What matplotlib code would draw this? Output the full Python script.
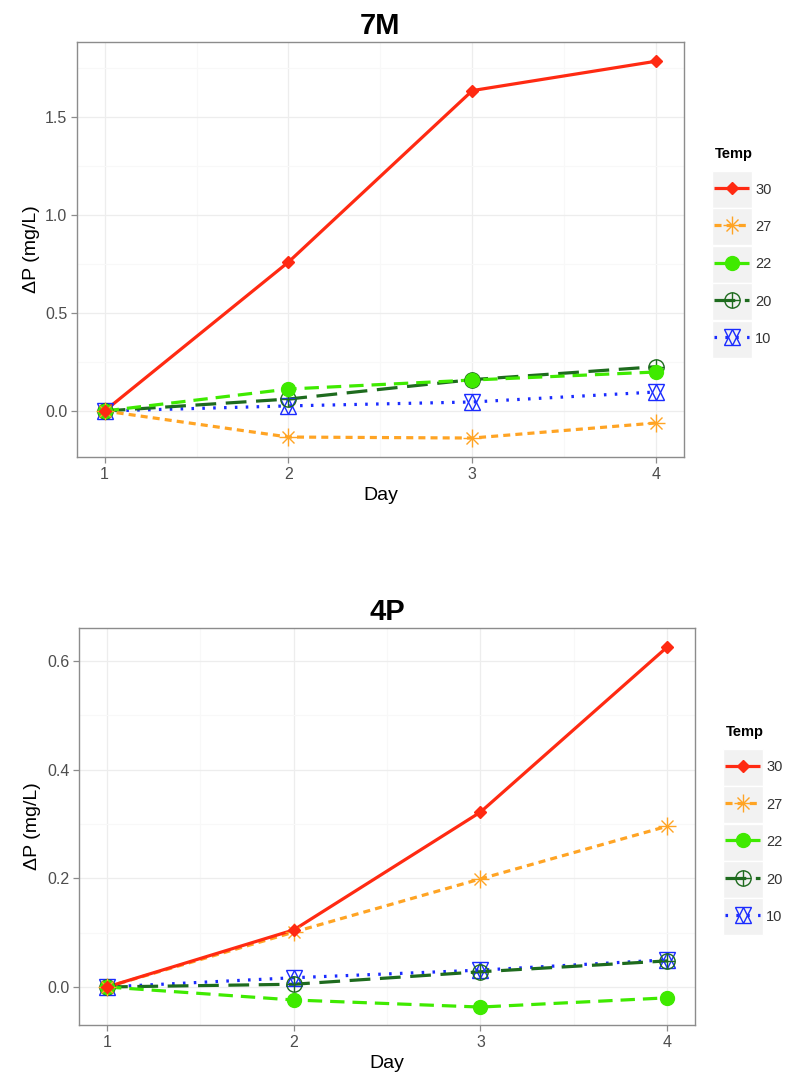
import matplotlib
matplotlib.use("Agg")
import matplotlib.pyplot as plt
from matplotlib.patches import Rectangle
from matplotlib.legend_handler import HandlerTuple
from matplotlib.ticker import MultipleLocator, FormatStrFormatter

plt.rcParams['font.family'] = ['Liberation Sans', 'DejaVu Sans']

days = [1, 2, 3, 4]
temps = ["30", "27", "22", "20", "10"]

# 7M panel values
m7_30 = [0.0, 0.76, 1.635, 1.785]
m7_27 = [0.0, -0.133, -0.138, -0.061]
m7_22 = [0.0, 0.112, 0.158, 0.199]
m7_20 = [0.0, 0.061, 0.160, 0.226]
m7_10 = [0.0, 0.026, 0.046, 0.097]

# 4P panel values
p4_30 = [0.0, 0.105, 0.322, 0.626]
p4_27 = [0.0, 0.101, 0.199, 0.296]
p4_22 = [0.0, -0.024, -0.037, -0.020]
p4_20 = [0.0, 0.005, 0.028, 0.048]
p4_10 = [0.0, 0.017, 0.031, 0.050]

colors = {"30": "#FF2A12", "27": "#FFA424", "22": "#3FEA00", "20": "#1E6B1E", "10": "#1A2BFF"}
dashes = {"30": None, "27": (2.2, 1.6), "22": (4.5, 2.5), "20": (6.5, 3.0), "10": (0.8, 2.6)}

def markers(ax, key, x, y, zo):
    c = colors[key]
    arts = []
    if key == "30":
        arts += ax.plot(x, y, ls='none', marker='D', ms=6.5, color=c, mec=c, zorder=zo)
    elif key == "27":
        arts += ax.plot(x, y, ls='none', marker='+', ms=13, mew=1.0, color=c, zorder=zo)
        arts += ax.plot(x, y, ls='none', marker='x', ms=9, mew=1.0, color=c, zorder=zo)
    elif key == "22":
        arts += ax.plot(x, y, ls='none', marker='o', ms=10, color=c, mec=c, zorder=zo)
    elif key == "20":
        arts += ax.plot(x, y, ls='none', marker='o', ms=11, mfc='none', mew=1.0, mec=c, zorder=zo)
        arts += ax.plot(x, y, ls='none', marker='+', ms=11, mew=1.0, color=c, zorder=zo)
    elif key == "10":
        arts += ax.plot(x, y, ls='none', marker='^', ms=11, mfc='none', mew=1.0, mec=c, zorder=zo)
        arts += ax.plot(x, y, ls='none', marker='v', ms=11, mfc='none', mew=1.0, mec=c, zorder=zo)
    return arts

def line(ax, key, x, y):
    kw = dict(color=colors[key], lw=2.3, zorder=2, solid_capstyle='butt', dash_capstyle='butt')
    ln, = ax.plot(x, y, **kw)
    if dashes[key] is not None:
        ln.set_dashes(dashes[key])
    return ln

fig = plt.figure(figsize=(7.86, 10.82), dpi=100)

panels = [
    ("7M", {"30": m7_30, "27": m7_27, "22": m7_22, "20": m7_20, "10": m7_10},
     [0.098, 0.5776, 0.772, 0.3836], (-0.235, 1.883), 0.5, 0.25, (0.909, 0.864)),
    ("4P", {"30": p4_30, "27": p4_27, "22": p4_22, "20": p4_20, "10": p4_10},
     [0.1005, 0.0527, 0.784, 0.3669], (-0.070, 0.661), 0.2, 0.1, (0.923, 0.330)),
]

for title, data, rect, ylim, major, minor, leg_anchor in panels:
    ax = fig.add_axes(rect)
    ax.set_xlim(0.85, 4.15)
    ax.set_ylim(*ylim)
    ax.xaxis.set_major_locator(MultipleLocator(1))
    ax.xaxis.set_minor_locator(MultipleLocator(0.5))
    ax.yaxis.set_major_locator(MultipleLocator(major))
    ax.yaxis.set_minor_locator(MultipleLocator(minor))
    ax.yaxis.set_major_formatter(FormatStrFormatter('%.1f'))
    ax.grid(which='major', color='#EDEDED', lw=0.9, zorder=0)
    ax.grid(which='minor', color='#F8F8F8', lw=0.8, zorder=0)
    ax.set_axisbelow(True)
    for s in ax.spines.values():
        s.set_color('#8C8C8C')
        s.set_linewidth(1.0)
    ax.tick_params(which='major', length=4, width=0.9, color='#8C8C8C', labelsize=11.5,
                   labelcolor='#4D4D4D', pad=3)
    ax.tick_params(which='minor', length=0)
    ax.set_xlabel("Day", fontsize=14, labelpad=4)
    ax.set_ylabel("ΔP (mg/L)", fontsize=14, labelpad=4)
    ax.set_title(title, fontsize=21, fontweight='bold', pad=6)

    handles = {}
    lines = {}
    for key in ["10", "20", "22", "27", "30"]:
        lines[key] = line(ax, key, days, data[key])
    for key in ["10", "20", "22", "27", "30"]:
        m = markers(ax, key, days, data[key], 3)
        handles[key] = tuple([lines[key]] + m)

    leg = fig.legend([handles[k] for k in temps], temps, title="Temp",
                     loc='upper left', bbox_to_anchor=leg_anchor,
                     frameon=False, borderpad=0, borderaxespad=0,
                     handlelength=2.35, handleheight=1.0,
                     handletextpad=0.45, labelspacing=1.57, fontsize=10.5,
                     title_fontproperties={'weight': 'bold', 'size': 10.5},
                     handler_map={tuple: HandlerTuple(ndivide=1)},
                     alignment='left')
    leg._legend_box.sep = 15
    for t in leg.get_texts():
        t.set_color('#333333')
    leg.set_zorder(5)

    fig.canvas.draw()
    inv = fig.transFigure.inverted()
    left_px = fig.transFigure.transform(leg_anchor)[0]
    for t in leg.get_texts():
        bb = t.get_window_extent()
        cy = (bb.y0 + bb.y1) / 2
        x1 = bb.x0 - 3
        x0 = left_px - 2
        (fx0, fy0) = inv.transform((x0, cy - 18.5))
        (fx1, fy1) = inv.transform((x1, cy + 18.5))
        fig.patches.append(Rectangle((fx0, fy0), fx1 - fx0, fy1 - fy0,
                                     transform=fig.transFigure, facecolor='#F2F2F2',
                                     edgecolor='white', lw=1, zorder=4))

fig.savefig("out.png", dpi=100)
